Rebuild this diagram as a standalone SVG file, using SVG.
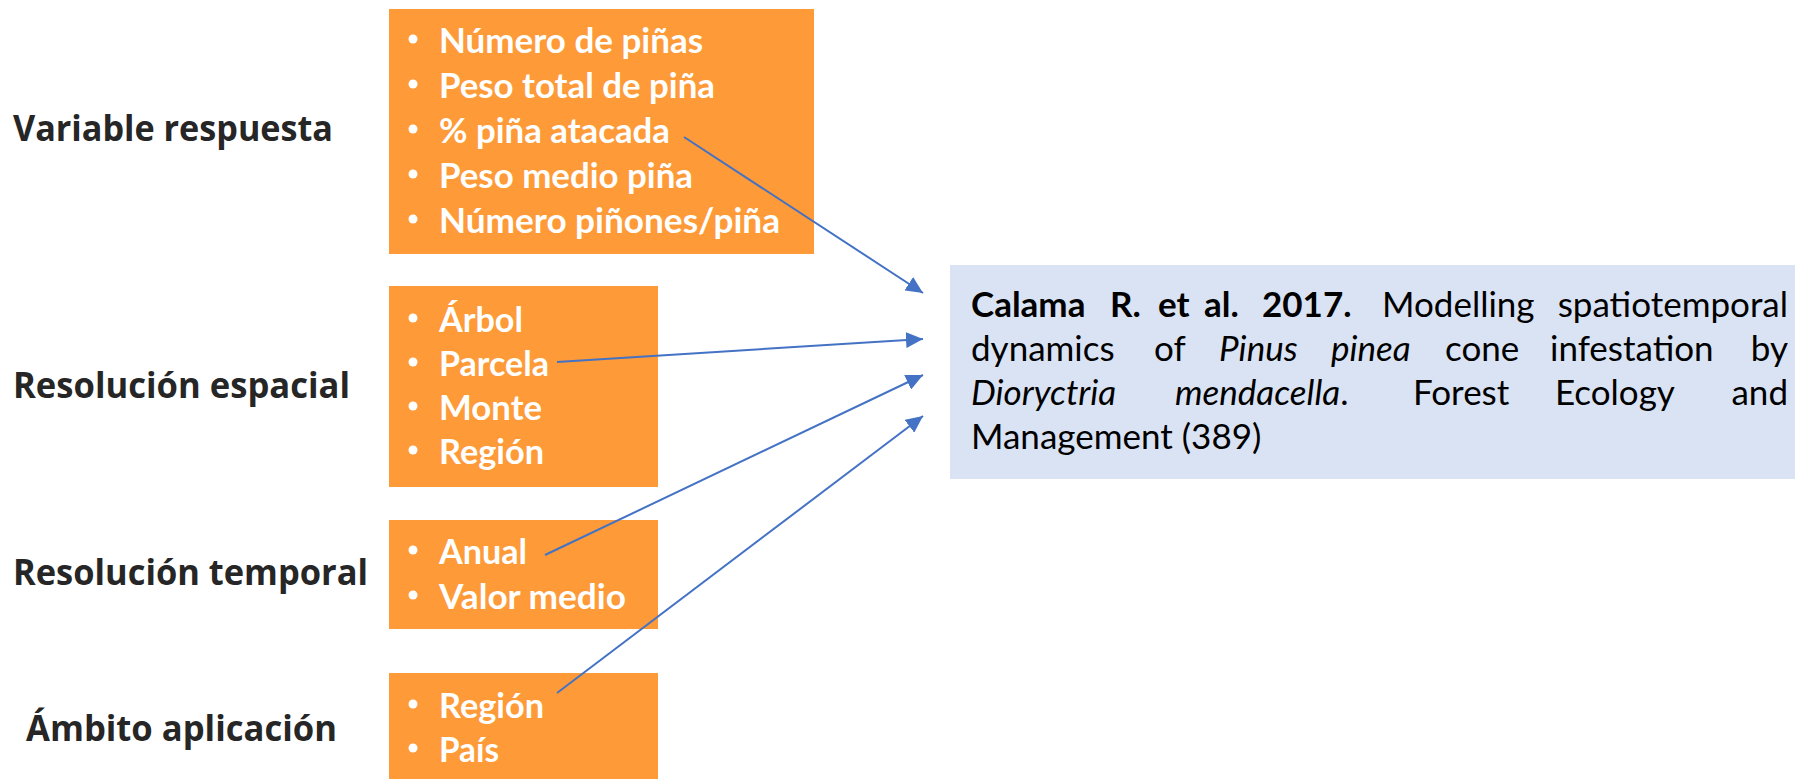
<svg xmlns="http://www.w3.org/2000/svg" width="1795" height="779" viewBox="0 0 1795 779">
  <style>
    .lbl { font-family: "Open Sans", "Noto Sans", sans-serif; font-weight: 700; font-size: 35px; fill: #262626; }
    .box { fill: #FE9A37; }
    .item { font-family: Lato, "Liberation Sans", sans-serif; font-weight: 700; font-size: 35px; fill: #FFFFFF; }
    .dot { fill: #FFFFFF; }
    .ref { fill: #DAE3F3; }
    .rt { font-family: Lato, "Liberation Sans", sans-serif; font-size: 35px; fill: #000000; }
    .end { text-anchor: end; }
    .b { font-weight: 700; }
    .i { font-style: italic; }
    .conn { stroke: #4472C4; stroke-width: 2; fill: none; marker-end: url(#arrow); }
  </style>
  <defs>
    <marker id="arrow" markerUnits="userSpaceOnUse" markerWidth="17" markerHeight="16" refX="17" refY="8" orient="auto">
      <path d="M0,0 L17,8 L0,16 Z" fill="#4472C4"/>
    </marker>
  </defs>
  <rect width="1795" height="779" fill="#FFFFFF"/>

  <g id="label-variable"><text class="lbl" x="13" y="141" textLength="320" lengthAdjust="spacingAndGlyphs">Variable respuesta</text></g>
  <g id="label-espacial"><text class="lbl" x="13" y="398" textLength="337" lengthAdjust="spacingAndGlyphs">Resolución espacial</text></g>
  <g id="label-temporal"><text class="lbl" x="13" y="585" textLength="355" lengthAdjust="spacingAndGlyphs">Resolución temporal</text></g>
  <g id="label-ambito"><text class="lbl" x="26" y="741" textLength="311" lengthAdjust="spacingAndGlyphs">Ámbito aplicación</text></g>

  <g id="box-variable">
    <rect class="box" x="389" y="9" width="425" height="245"/>
    <circle class="dot" cx="413" cy="39" r="4.5"/>
    <text class="item" x="439" y="53" textLength="264" lengthAdjust="spacingAndGlyphs">Número de piñas</text>
    <circle class="dot" cx="413" cy="84" r="4.5"/>
    <text class="item" x="439" y="98" textLength="276" lengthAdjust="spacingAndGlyphs">Peso total de piña</text>
    <circle class="dot" cx="413" cy="129" r="4.5"/>
    <text class="item" x="439" y="143" textLength="231" lengthAdjust="spacingAndGlyphs">% piña atacada</text>
    <circle class="dot" cx="413" cy="174" r="4.5"/>
    <text class="item" x="439" y="188" textLength="254" lengthAdjust="spacingAndGlyphs">Peso medio piña</text>
    <circle class="dot" cx="413" cy="219" r="4.5"/>
    <text class="item" x="439" y="233" textLength="341" lengthAdjust="spacingAndGlyphs">Número piñones/piña</text>
  </g>

  <g id="box-espacial">
    <rect class="box" x="389" y="286" width="269" height="201"/>
    <circle class="dot" cx="413" cy="318" r="4.5"/>
    <text class="item" x="439" y="332" textLength="84" lengthAdjust="spacingAndGlyphs">Árbol</text>
    <circle class="dot" cx="413" cy="362" r="4.5"/>
    <text class="item" x="439" y="376" textLength="110" lengthAdjust="spacingAndGlyphs">Parcela</text>
    <circle class="dot" cx="413" cy="406" r="4.5"/>
    <text class="item" x="439" y="420" textLength="103" lengthAdjust="spacingAndGlyphs">Monte</text>
    <circle class="dot" cx="413" cy="450" r="4.5"/>
    <text class="item" x="439" y="464" textLength="105" lengthAdjust="spacingAndGlyphs">Región</text>
  </g>

  <g id="box-temporal">
    <rect class="box" x="389" y="520" width="269" height="109"/>
    <circle class="dot" cx="413" cy="550" r="4.5"/>
    <text class="item" x="439" y="564" textLength="88" lengthAdjust="spacingAndGlyphs">Anual</text>
    <circle class="dot" cx="413" cy="595" r="4.5"/>
    <text class="item" x="439" y="609" textLength="187" lengthAdjust="spacingAndGlyphs">Valor medio</text>
  </g>

  <g id="box-ambito">
    <rect class="box" x="389" y="673" width="269" height="106"/>
    <circle class="dot" cx="413" cy="704" r="4.5"/>
    <text class="item" x="439" y="718" textLength="105" lengthAdjust="spacingAndGlyphs">Región</text>
    <circle class="dot" cx="413" cy="748" r="4.5"/>
    <text class="item" x="439" y="762" textLength="60" lengthAdjust="spacingAndGlyphs">País</text>
  </g>

  <g id="reference">
    <rect class="ref" x="950" y="265" width="845" height="214"/>
    <text class="rt b" y="317"><tspan x="971">Calama</tspan><tspan x="1110">R.</tspan><tspan x="1158">et</tspan><tspan x="1204">al.</tspan><tspan x="1262">2017.</tspan></text>
    <text class="rt" x="1382" y="317">Modelling</text>
    <text class="rt end" x="1788" y="317">spatiotemporal</text>
    <text class="rt" y="361"><tspan x="971">dynamics</tspan><tspan x="1154">of</tspan><tspan class="i" x="1219">Pinus</tspan><tspan class="i" x="1331">pinea</tspan><tspan x="1445">cone</tspan><tspan x="1550">infestation</tspan></text>
    <text class="rt end" x="1788" y="361">by</text>
    <text class="rt" y="405"><tspan class="i" x="971">Dioryctria</tspan><tspan class="i" x="1175">mendacella</tspan>.<tspan x="1413">Forest</tspan><tspan x="1555">Ecology</tspan></text>
    <text class="rt end" x="1788" y="405">and</text>
    <text class="rt" x="971" y="449">Management (389)</text>
  </g>

  <g id="connectors">
    <line class="conn" x1="684" y1="137" x2="923" y2="293"/>
    <line class="conn" x1="557" y1="362" x2="923" y2="339"/>
    <line class="conn" x1="545" y1="555" x2="923" y2="375"/>
    <line class="conn" x1="557" y1="693" x2="923" y2="416"/>
  </g>
</svg>
